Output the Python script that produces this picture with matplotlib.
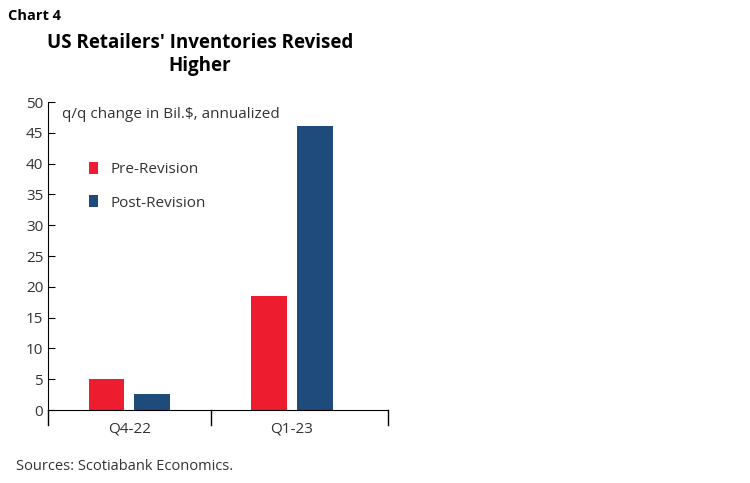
import matplotlib.pyplot as plt
import numpy as np

quarters = ["Q4-22", "Q1-23"]
pre_revision = [5.0, 18.5]
post_revision = [2.6, 46.1]

plt.rcParams["font.family"] = ["Open Sans", "DejaVu Sans"]

fig = plt.figure(figsize=(7.5, 4.83), dpi=100)
ax = fig.add_axes([48 / 750, 1 - 410 / 483, 340 / 750, 308 / 483])

x = np.arange(len(quarters))
w = 0.22
ax.bar(x - 0.14, pre_revision, w, color="#ed1c2e", label="Pre-Revision")
ax.bar(x + 0.14, post_revision, w, color="#1f4a7c", label="Post-Revision")

ax.set_xlim(-0.5, 1.59)
ax.set_ylim(0, 50)
ax.set_yticks(range(0, 51, 5))
ax.tick_params(axis="y", direction="in", length=5, labelsize=11, colors="#333333")
ax.tick_params(axis="y", colors="black", labelcolor="#333333")
ax.set_xticks(x)
ax.set_xticklabels(quarters, fontsize=11, color="#333333")
ax.tick_params(axis="x", length=0, pad=8)
for xv in [-0.5, 0.5, 1.59]:
    ax.plot([xv, xv], [0, -2.5], color="black", lw=1, clip_on=False)
for s in ["top", "right"]:
    ax.spines[s].set_visible(False)

ax.text(0.04, 0.985, "q/q change in Bil.$, annualized", transform=ax.transAxes,
        fontsize=11, color="#333333", va="top")
ax.legend(loc="upper left", bbox_to_anchor=(0.08, 0.85), frameon=False,
          fontsize=11, handlelength=0.6, handleheight=0.8, labelspacing=1.2,
          labelcolor="#333333")

fig.text(200 / 750, 1 - 54 / 483, "US Retailers' Inventories Revised\nHigher",
         ha="center", va="center", fontsize=13.5, fontweight="bold", linespacing=1.2)
fig.text(8 / 750, 1 - 16 / 483, "Chart 4", fontsize=10.5, fontweight="bold", va="center")
fig.text(16 / 750, 1 - 466 / 483, "Sources: Scotiabank Economics.", fontsize=10.5,
         color="#333333", va="center")

fig.savefig("out.png", dpi=100)
